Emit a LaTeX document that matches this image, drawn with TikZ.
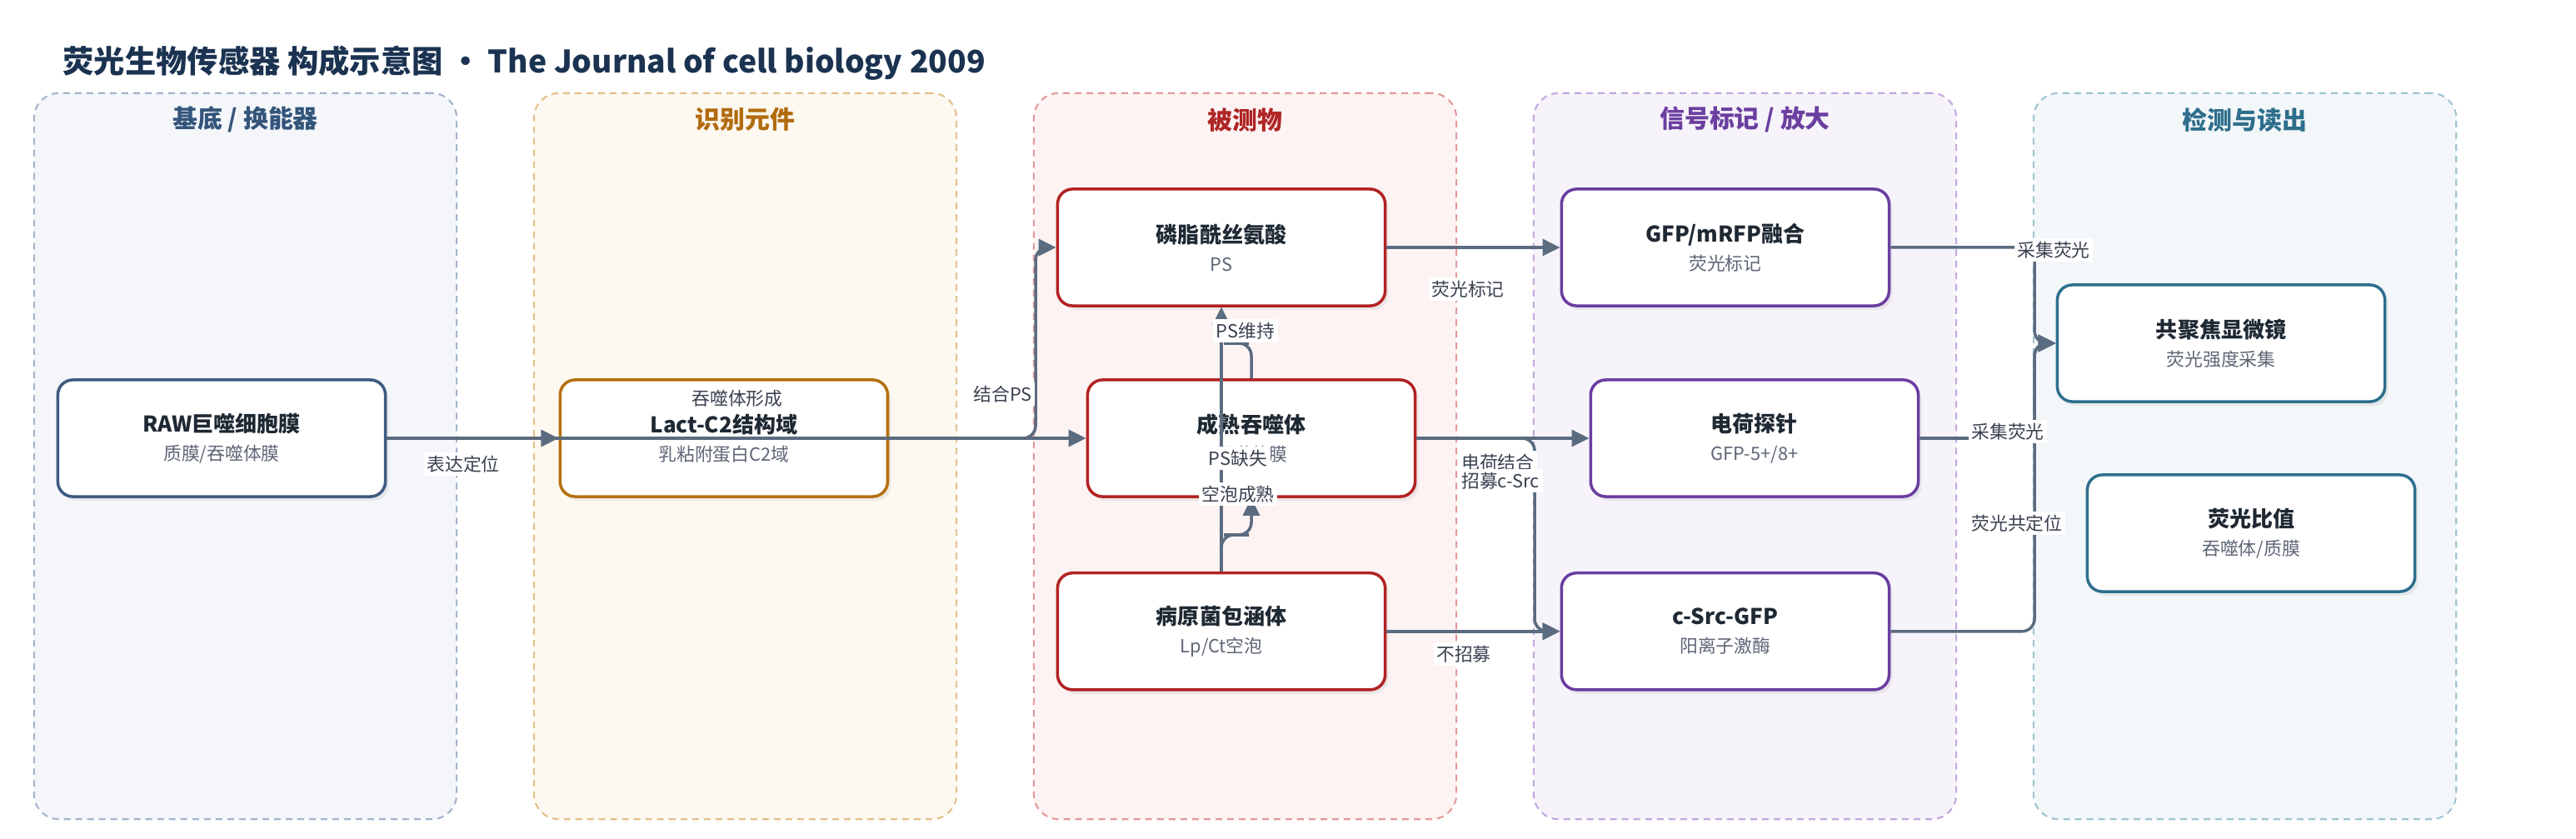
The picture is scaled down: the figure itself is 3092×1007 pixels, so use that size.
\documentclass[tikz,border=0pt]{standalone}
\usepackage{fontspec}
\setmainfont{Noto Sans CJK SC}
\usepackage{xcolor}
\usepackage{tikz}
\usetikzlibrary{arrows.meta}
\usetikzlibrary{positioning}
\usetikzlibrary{shadows}

\definecolor{titleink}{HTML}{1B3351}
\definecolor{nodeink}{HTML}{1F2933}
\definecolor{subink}{HTML}{5E6675}
\definecolor{lblink}{HTML}{3A4150}
\definecolor{edgec}{HTML}{5B6B80}
% lanes: border / fill / title / node
\definecolor{baseB}{HTML}{A3B5CC}\definecolor{baseF}{HTML}{F4F6FA}\definecolor{baseT}{HTML}{34557A}\definecolor{baseN}{HTML}{3D5A80}
\definecolor{recB}{HTML}{E3C08A}\definecolor{recF}{HTML}{FDF8F0}\definecolor{recT}{HTML}{B26B0E}\definecolor{recN}{HTML}{B5700E}
\definecolor{anaB}{HTML}{E39A9A}\definecolor{anaF}{HTML}{FDF3F3}\definecolor{anaT}{HTML}{B02525}\definecolor{anaN}{HTML}{B22222}
\definecolor{sigB}{HTML}{C2A9DE}\definecolor{sigF}{HTML}{F6F3FA}\definecolor{sigT}{HTML}{6B3FA0}\definecolor{sigN}{HTML}{6A3DA0}
\definecolor{detB}{HTML}{A0C4D2}\definecolor{detF}{HTML}{F3F7F9}\definecolor{detT}{HTML}{2E6E8C}\definecolor{detN}{HTML}{2E6F8E}

\newcommand{\subtxt}[1]{{\fontsize{6.2}{7}\selectfont\color{subink}#1}}

\tikzset{
    block/.style={
           rectangle,
           rounded corners=0.18cm,
           draw=#1, line width=1pt,
           fill=white,
           minimum width=3.93cm,
           minimum height=1.4cm,
           inner sep=2pt,
           align=center,
           text=nodeink,
           font=\fontsize{7.4}{9.7}\selectfont,
           drop shadow={shadow xshift=0.04cm, shadow yshift=-0.05cm, opacity=0.12},
           },
     lane/.style 2 args={
           rectangle,
           rounded corners=0.3cm,
           draw=#1, fill=#2,
           dash pattern=on 0.08cm off 0.06cm,
           line width=0.6pt,
           minimum width=5.07cm,
           minimum height=8.71cm,
           },
     lanetitle/.style={
           inner sep=0pt,
           text=#1,
           font=\bfseries\fontsize{8.5}{10}\selectfont,
           },
     lbl/.style={
           fill=white,
           inner sep=1pt,
           text=lblink,
           font=\fontsize{6.2}{7}\selectfont,
           },
     edge/.style={
           color=edgec, line width=1pt,
           rounded corners=0.15cm,
           -{Triangle[length=0.21cm,width=0.2cm]},
           },
}

\begin{document}
\begin{tikzpicture}[x=0.01cm, y=-0.01cm]
	\useasboundingbox (0,0) rectangle (3092,1007);

	\node[anchor=west, inner sep=0pt, text=titleink, font=\bfseries\fontsize{10.6}{12}\selectfont] (title) at (75,76)
		{荧光生物传感器 构成示意图 • The Journal of cell biology 2009};

	% lanes
	\node[lane={baseB}{baseF}] (lane1) at (294.5,547.5) {};
	\node[lane={recB}{recF}]   (lane2) at (894.5,547.5) {};
	\node[lane={anaB}{anaF}]   (lane3) at (1494.5,547.5) {};
	\node[lane={sigB}{sigF}]   (lane4) at (2094.5,547.5) {};
	\node[lane={detB}{detF}]   (lane5) at (2694.5,547.5) {};

	\node[lanetitle=baseT] (lt1) at ([yshift=-0.33cm]lane1.north) {基底 / 换能器};
	\node[lanetitle=recT]  (lt2) at ([yshift=-0.33cm]lane2.north) {识别元件};
	\node[lanetitle=anaT]  (lt3) at ([yshift=-0.33cm]lane3.north) {被测物};
	\node[lanetitle=sigT]  (lt4) at ([yshift=-0.33cm]lane4.north) {信号标记 / 放大};
	\node[lanetitle=detT]  (lt5) at ([yshift=-0.33cm]lane5.north) {检测与读出};

	% nodes
	\node[block=baseN] (raw) at (266,526) {\textbf{RAW巨噬细胞膜}\\\subtxt{质膜/吞噬体膜}};
	\node[block=recN, right=2.06cm of raw] (lact) {\textbf{Lact-C2结构域}\\\subtxt{乳粘附蛋白C2域}};

	\node[block=anaN] (ps) at (1466,297) {\textbf{磷脂酰丝氨酸}\\\subtxt{PS}};
	\node[block=anaN] (phago) at (1502,526) {\textbf{成熟吞噬体}\\\subtxt{吞噬体膜}};
	\node[block=anaN, below=3.17cm of ps] (path) {\textbf{病原菌包涵体}\\\subtxt{Lp/Ct空泡}};

	\node[block=sigN, right=2.08cm of ps] (gfp) {\textbf{GFP/mRFP融合}\\\subtxt{荧光标记}};
	\node[block=sigN, right=2.07cm of phago] (charge) {\textbf{电荷探针}\\\subtxt{GFP-5+/8+}};
	\node[block=sigN, right=2.08cm of path] (csrc) {\textbf{c-Src-GFP}\\\subtxt{阳离子激酶}};

	\node[block=detN] (conf) at (2666,412) {\textbf{共聚焦显微镜}\\\subtxt{荧光强度采集}};
	\node[block=detN] (ratio) at (2702,640) {\textbf{荧光比值}\\\subtxt{吞噬体/质膜}};

	% bends
	\coordinate (busA) at (1243,0);
	\coordinate (busB) at (1842,0);
	\coordinate (busC) at (2442,0);
	\coordinate (jogA) at (1484,412);
	\coordinate (jogB) at (1484,642);

	\path[edge] (raw.east) edge (lact.west)
	            (raw.east) edge (phago.west)
	            (ps.east) edge (gfp.west)
	            (phago.east) edge (charge.west)
	            (path.east) edge (csrc.west)
	            (path.north) edge (ps.south);

	\draw[edge] (lact.east) -- (lact.east -| busA) |- (ps.west);
	\draw[edge] (phago.north) |- (jogA) -| (ps.south);
	\draw[edge] (path.north) |- (jogB) -| (phago.south);
	\draw[edge] (phago.east) -- (phago.east -| busB) |- (csrc.west);
	\draw[edge] (gfp.east) -- (gfp.east -| busC) |- (conf.west);
	\draw[edge] (charge.east) -- (charge.east -| busC) |- (conf.west);
	\draw[edge] (csrc.east) -- (csrc.east -| busC) |- (conf.west);

	% edge labels
	\node[lbl] (lb-expr) at (556,557) {表达定位};
	\node[lbl] (lb-form) at (885,478) {吞噬体形成};
	\node[lbl, anchor=east] (lb-bind) at (1243,473) {结合PS};
	\node[lbl] (lb-keep) at (1495,397) {PS维持};
	\node[lbl] (lb-loss) at (1486,550) {PS缺失};
	\node[lbl] (lb-mat) at (1486,593) {空泡成熟};
	\node[lbl] (lb-mark) at (1762,347) {荧光标记};
	\node[lbl, anchor=west] (lb-chg) at (1750,555) {电荷结合};
	\node[lbl, anchor=west] (lb-rec) at (1750,577) {招募c-Src};
	\node[lbl] (lb-norec) at (1757,785) {不招募};
	\node[lbl] (lb-col1) at (2465,300) {采集荧光};
	\node[lbl] (lb-col2) at (2410,518) {采集荧光};
	\node[lbl] (lb-coloc) at (2421,628) {荧光共定位};

\end{tikzpicture}
\end{document}
